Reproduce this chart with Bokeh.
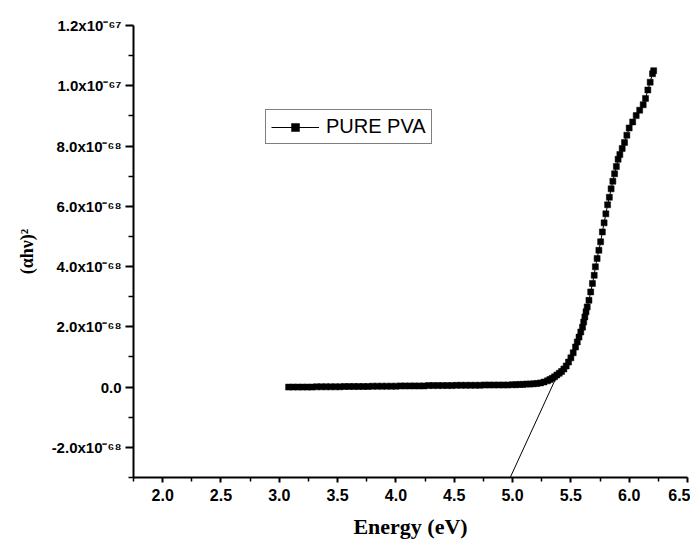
from bokeh.plotting import figure
from bokeh.models import Range1d, FixedTicker, Legend, LegendItem, LinearAxis
from bokeh.embed import file_html
from bokeh.resources import INLINE

# ---- data ----
energy_ev = [
    3.08, 3.12, 3.16, 3.20, 3.24, 3.28, 3.32, 3.36, 3.40, 3.44, 3.48, 3.52,
    3.56, 3.60, 3.64, 3.68, 3.72, 3.76, 3.80, 3.84, 3.88, 3.92, 3.96, 4.00,
    4.04, 4.08, 4.12, 4.16, 4.20, 4.24, 4.28, 4.32, 4.36, 4.40, 4.44, 4.48,
    4.52, 4.56, 4.60, 4.64, 4.68, 4.72, 4.76, 4.80, 4.84, 4.88, 4.92, 4.96,
    5.00, 5.03, 5.06, 5.09, 5.12, 5.15, 5.18, 5.21, 5.24, 5.27, 5.30, 5.32,
    5.34, 5.36, 5.38, 5.40, 5.42, 5.44, 5.46, 5.48, 5.50, 5.52, 5.54, 5.555,
    5.57, 5.585, 5.60, 5.61, 5.62, 5.63, 5.64, 5.655, 5.67, 5.685, 5.70, 5.71,
    5.725, 5.74, 5.755, 5.77, 5.785, 5.80, 5.815, 5.83, 5.845, 5.86, 5.875, 5.89,
    5.905, 5.92, 5.94, 5.96, 5.98, 6.00, 6.03, 6.06, 6.09, 6.12, 6.14, 6.16,
    6.18, 6.20, 6.21,
]
alpha_hv_sq = [
    0.00e-68, 0.00e-68, 0.00e-68, 0.00e-68, 0.00e-68, 0.00e-68, 0.01e-68, 0.01e-68, 0.01e-68, 0.01e-68, 0.01e-68, 0.01e-68,
    0.02e-68, 0.02e-68, 0.02e-68, 0.02e-68, 0.02e-68, 0.02e-68, 0.03e-68, 0.03e-68, 0.03e-68, 0.03e-68, 0.03e-68, 0.03e-68,
    0.04e-68, 0.04e-68, 0.04e-68, 0.04e-68, 0.04e-68, 0.04e-68, 0.05e-68, 0.05e-68, 0.05e-68, 0.05e-68, 0.05e-68, 0.05e-68,
    0.06e-68, 0.06e-68, 0.06e-68, 0.06e-68, 0.06e-68, 0.06e-68, 0.07e-68, 0.07e-68, 0.07e-68, 0.07e-68, 0.07e-68, 0.07e-68,
    0.08e-68, 0.08e-68, 0.09e-68, 0.09e-68, 0.10e-68, 0.10e-68, 0.11e-68, 0.12e-68, 0.14e-68, 0.17e-68, 0.21e-68, 0.25e-68,
    0.29e-68, 0.34e-68, 0.40e-68, 0.46e-68, 0.52e-68, 0.60e-68, 0.70e-68, 0.83e-68, 0.97e-68, 1.14e-68, 1.33e-68, 1.50e-68,
    1.66e-68, 1.83e-68, 1.99e-68, 2.16e-68, 2.33e-68, 2.50e-68, 2.66e-68, 2.88e-68, 3.16e-68, 3.44e-68, 3.71e-68, 3.99e-68,
    4.27e-68, 4.54e-68, 4.82e-68, 5.15e-68, 5.45e-68, 5.75e-68, 6.05e-68, 6.30e-68, 6.58e-68, 6.83e-68, 7.08e-68, 7.32e-68,
    7.56e-68, 7.72e-68, 7.92e-68, 8.12e-68, 8.36e-68, 8.60e-68, 8.80e-68, 9.01e-68, 9.19e-68, 9.37e-68, 9.58e-68, 9.86e-68,
    10.12e-68, 10.40e-68, 10.50e-68,
]
tangent_ev = [4.98, 5.41]
tangent_val = [-3.0e-68, 0.62e-68]

series_name = "PURE PVA"
x_title = "Energy (eV)"
y_title = "(\u03b1h\u03bd)\u00b2"

x_ticks = [2.0, 2.5, 3.0, 3.5, 4.0, 4.5, 5.0, 5.5, 6.0, 6.5]
x_tick_labels = ["2.0", "2.5", "3.0", "3.5", "4.0", "4.5", "5.0", "5.5", "6.0", "6.5"]
x_minor = [1.75, 2.25, 2.75, 3.25, 3.75, 4.25, 4.75, 5.25, 5.75, 6.25]
y_ticks = [-2e-68, 0.0, 2e-68, 4e-68, 6e-68, 8e-68, 1.0e-67, 1.2e-67]
y_tick_labels = [
    "-2.0x10\u207b\u2076\u2078", "0.0", "2.0x10\u207b\u2076\u2078", "4.0x10\u207b\u2076\u2078",
    "6.0x10\u207b\u2076\u2078", "8.0x10\u207b\u2076\u2078", "1.0x10\u207b\u2076\u2077",
    "1.2x10\u207b\u2076\u2077",
]
y_minor = [-3e-68, -1e-68, 1e-68, 3e-68, 5e-68, 7e-68, 9e-68, 1.1e-67]

x_start, x_end = 1.75, 6.5
y_start, y_end = -3e-68, 1.2e-67
y_title_span = (2.9e-68, 4.4e-68)  # extent the y title is centred on

# ---- figure ----
p = figure(
    output_backend="svg", toolbar_location=None,
    frame_width=554, frame_height=452,
    x_range=Range1d(x_start, x_end), y_range=Range1d(y_start, y_end),
    min_border_left=133, min_border_right=3, min_border_top=25, min_border_bottom=60,
    background_fill_color="white", border_fill_color="white",
)
p.outline_line_color = None
p.grid.visible = False

ln = p.line(energy_ev, alpha_hv_sq, line_color="black", line_width=1)
sc = p.scatter(energy_ev, alpha_hv_sq, marker="square", size=6,
               fill_color="black", line_color="black", line_width=0.5)
p.line(tangent_ev, tangent_val, line_color="black", line_width=1)

# axes
for ax in (p.xaxis[0], p.yaxis[0]):
    ax.axis_line_width = 2
    ax.axis_line_color = "black"
    ax.major_tick_line_color = "black"
    ax.minor_tick_line_color = "black"
    ax.major_tick_line_width = 2
    ax.minor_tick_line_width = 1.5
    ax.major_tick_in = 0
    ax.minor_tick_in = 0
    ax.major_label_text_font = "Liberation Sans"
    ax.major_label_text_font_style = "bold"
    ax.major_label_text_font_size = "15px"
    ax.major_label_text_color = "black"

xa = p.xaxis[0]
xa.ticker = FixedTicker(ticks=x_ticks, minor_ticks=x_minor)
xa.major_label_overrides = {t: l for t, l in zip(x_ticks, x_tick_labels)}
xa.major_label_text_font_size = "16px"
xa.major_tick_out = 5
xa.minor_tick_out = 4
xa.major_label_standoff = 6
xa.axis_label = x_title
xa.axis_label_text_font = "Liberation Serif"
xa.axis_label_text_font_style = "bold"
xa.axis_label_text_font_size = "22px"
xa.axis_label_text_color = "black"
xa.axis_label_standoff = 10

ya = p.yaxis[0]
ya.ticker = FixedTicker(ticks=y_ticks, minor_ticks=y_minor)
ya.major_label_overrides = {t: l for t, l in zip(y_ticks, y_tick_labels)}
ya.major_tick_out = 8
ya.minor_tick_out = 5
ya.major_label_standoff = 4

# a bare left axis that only carries the y title, centred on y_title_span
ytitle_axis = LinearAxis(
    ticker=FixedTicker(ticks=[], minor_ticks=[]),
    bounds=y_title_span,
    axis_line_color=None, major_tick_line_color=None, minor_tick_line_color=None,
    major_tick_out=0, minor_tick_out=0,
    axis_label=y_title, axis_label_standoff=12,
    axis_label_text_font="Liberation Serif", axis_label_text_font_style="bold",
    axis_label_text_font_size="18px", axis_label_text_color="black",
)
p.add_layout(ytitle_axis, "left")

legend = Legend(
    items=[LegendItem(label=series_name, renderers=[ln, sc])],
    location=(132, 333),
    border_line_color="black", border_line_width=1,
    background_fill_color="white", background_fill_alpha=1,
    label_text_font="Liberation Sans", label_text_font_size="20px",
    label_text_color="black",
    glyph_width=48, glyph_height=20, label_height=20,
    label_standoff=7, padding=5, spacing=0, margin=0,
)
p.add_layout(legend, "center")

open("out.html", "w").write(file_html(p, INLINE))
